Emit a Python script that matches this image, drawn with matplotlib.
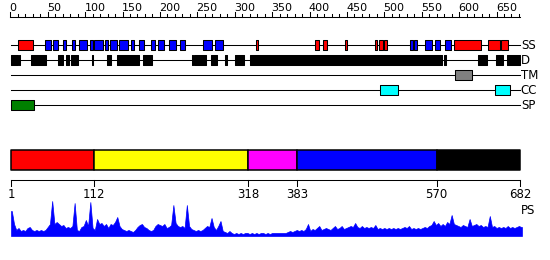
import numpy as np
import matplotlib
matplotlib.use("Agg")
import matplotlib.pyplot as plt

# feature tracks (start, end) in residues
ss_helix = [(10, 30), (328, 331), (408, 413), (418, 423), (447, 450), (487, 490),
            (493, 498), (500, 504), (593, 629), (639, 654), (656, 666)]
ss_strand = [(46, 55), (57, 64), (70, 74), (82, 87), (92, 102), (107, 111),
             (112, 124), (126, 131), (133, 143), (145, 157), (161, 166),
             (172, 179), (188, 194), (197, 205), (212, 221), (227, 233),
             (257, 269), (273, 284), (534, 538), (540, 544), (554, 564),
             (568, 575), (581, 589)]
disorder = [(1, 10), (12, 13), (28, 48), (64, 71), (74, 79), (81, 91), (109, 111),
            (129, 134), (143, 172), (178, 190), (243, 244), (246, 261), (268, 276),
            (287, 290), (301, 313), (320, 577), (580, 582), (625, 637), (649, 658),
            (664, 682)]
tm = [(594, 617)]
cc = [(494, 518), (648, 668)]
sp = [(1, 32)]

track_names = ["SS", "D", "TM", "CC", "SP"]

# domain bar
dom_bounds = [1, 112, 318, 383, 570, 682]
dom_colors = ["#ff0000", "#ffff00", "#ff00ff", "#0000ff", "#000000"]

# PS profile, one value per 3 residues
ps_vals = [25, 12, 6, 8, 5, 6, 5, 8, 9, 6, 5, 6, 5, 6, 5, 6, 9, 12, 35, 12,
           14, 12, 10, 11, 8, 9, 8, 10, 33, 6, 5, 9, 10, 16, 10, 34, 8, 6, 17, 12,
           13, 10, 12, 8, 12, 11, 14, 19, 10, 7, 6, 5, 6, 5, 4, 6, 9, 11, 12, 9,
           8, 6, 5, 6, 10, 12, 11, 10, 12, 8, 9, 11, 31, 13, 10, 9, 10, 8, 31, 10,
           7, 6, 5, 6, 5, 6, 8, 10, 9, 18, 9, 6, 10, 15, 5, 4, 3, 5, 3, 2,
           3, 2, 3, 2, 3, 3, 2, 3, 2, 3, 2, 3, 3, 2, 3, 2, 3, 3, 3, 3,
           3, 3, 3, 4, 5, 4, 5, 6, 5, 6, 5, 7, 12, 5, 7, 6, 8, 10, 6, 7,
           8, 7, 6, 8, 10, 7, 8, 10, 7, 8, 9, 10, 9, 13, 9, 8, 10, 8, 9, 8,
           9, 8, 11, 7, 8, 7, 8, 7, 8, 7, 8, 7, 8, 7, 8, 9, 8, 10, 7, 8,
           7, 8, 7, 8, 9, 8, 10, 11, 15, 11, 13, 10, 12, 10, 14, 12, 21, 12, 11, 10,
           9, 11, 10, 9, 17, 10, 11, 12, 10, 11, 9, 10, 9, 20, 9, 10, 8, 9, 8, 9,
           8, 10, 8, 9, 8, 9, 10, 9]

W, H = 550, 260
x0, x1 = -13.77, 721.5

fig = plt.figure(figsize=(5.5, 2.6), dpi=100)
ax = fig.add_axes([0, 0, 1, 1])
ax.set_xlim(x0, x1)
ax.set_ylim(H, 0)
ax.axis("off")

lw = 0.75
fs = 8.5

# ruler
ax.plot([0, 682], [16.5, 16.5], color="black", lw=lw)
for t in range(0, 681, 10):
    h = 5 if t % 50 == 0 else 3
    ax.plot([t, t], [16.5, 16.5 - h], color="black", lw=lw)
    if t % 50 == 0:
        ax.text(t - 1, 11, str(t), ha="left", va="baseline", fontsize=8)

# tracks
rows = [45.3, 60.3, 75.3, 90.3, 105.3]
tracks = [[(ss_helix, "#ff0000"), (ss_strand, "#0000ff")],
          [(disorder, "#000000")],
          [(tm, "#808080")],
          [(cc, "#00ffff")],
          [(sp, "#008000")]]
for y, name, parts in zip(rows, track_names, tracks):
    ax.plot([1, 682], [y, y], color="black", lw=lw, zorder=1)
    for segs, col in parts:
        ax.broken_barh([(s, e - s) for s, e in segs], (y - 5, 10),
                       facecolors=col, edgecolors="black", lw=lw, zorder=2)
    ax.text(682.5, y, name, ha="left", va="center", fontsize=fs)

# domain bar
for a, b, col in zip(dom_bounds[:-1], dom_bounds[1:], dom_colors):
    ax.broken_barh([(a, b - a)], (150.3, 20), facecolors=col,
                   edgecolors="black", lw=1.1)

# axis under domain bar
ax.plot([1, 682], [180.3, 180.3], color="black", lw=lw)
for t in dom_bounds:
    ax.plot([t, t], [180.3, 185.5], color="black", lw=lw)
    ax.text(t, 195, str(t), ha="center", va="center", fontsize=fs)
ax.text(682.5, 211, "PS", ha="left", va="center", fontsize=fs)

# PS profile
ps_ax = fig.add_axes([0, 1 - 236 / H, 1, 36 / H])
ps_ax.set_xlim(x0, x1)
ps_ax.set_ylim(0, 36)
ps_ax.axis("off")
centers = 2 + 3 * np.arange(len(ps_vals))
xs = np.concatenate([[1], centers, [684]])
ys = np.concatenate([[ps_vals[0]], ps_vals, [ps_vals[-1]]])
ps_ax.fill_between(xs, 0, ys, color="#0000ff", lw=0.5)

fig.savefig("out.png", dpi=100)
